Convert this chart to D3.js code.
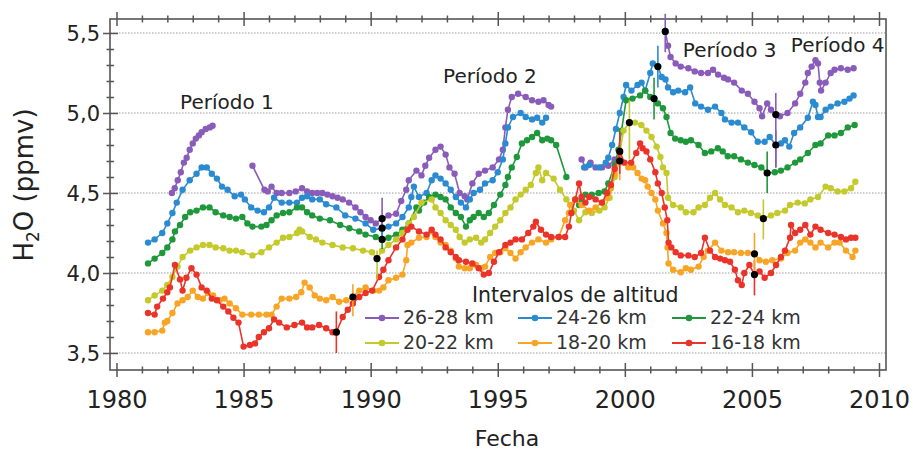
<!DOCTYPE html>
<html>
<head>
<meta charset="utf-8">
<script src="https://cdn.jsdelivr.net/npm/d3@7"></script>
<style>
  html, body { margin: 0; padding: 0; background: #fff; }
  svg { display: block; font-family: "DejaVu Sans", sans-serif; }
</style>
</head>
<body>
<svg id="chart" width="913" height="452"></svg>
<script>
// ---------------- DATA ----------------
const seriesNames = ["26-28 km", "24-26 km", "22-24 km", "20-22 km", "18-20 km", "16-18 km"];
const seriesColors = ["#8a5cba", "#2a8bd0", "#1f983c", "#c4c92c", "#f8a526", "#ea3329"];

const purple = [
  [1982.18,4.50],[1982.29,4.53],[1982.41,4.58],[1982.53,4.63],[1982.65,4.69],[1982.76,4.72],[1982.88,4.77],[1983.0,4.81],[1983.12,4.84],[1983.24,4.86],[1983.35,4.88],[1983.51,4.90],[1983.67,4.91],[1983.78,4.92],
  null,
  [1985.35,4.67],[1985.82,4.52],[1985.95,4.51],[1986.1,4.54],[1986.3,4.50],[1986.5,4.50],[1986.8,4.50],[1987.05,4.51],[1987.3,4.53],[1987.5,4.51],[1987.7,4.50],[1987.9,4.50],[1988.1,4.50],[1988.3,4.49],[1988.5,4.48],[1988.7,4.47],[1988.9,4.46],[1989.15,4.44],[1989.4,4.41],[1989.6,4.38],[1989.8,4.35],[1990.0,4.33],[1990.2,4.31],[1990.45,4.34],[1990.7,4.36],[1991.0,4.37],[1991.2,4.45],[1991.4,4.52],[1991.5,4.58],[1991.8,4.64],[1992.0,4.61],[1992.15,4.67],[1992.3,4.72],[1992.55,4.77],[1992.75,4.79],[1992.95,4.74],[1993.1,4.66],[1993.3,4.62],[1993.5,4.50],[1993.7,4.48],[1993.8,4.46],[1994.0,4.56],[1994.25,4.62],[1994.5,4.64],[1994.8,4.66],[1995.05,4.71],[1995.2,4.77],[1995.3,4.91],[1995.4,5.02],[1995.55,5.10],[1995.8,5.12],[1996.1,5.10],[1996.35,5.08],[1996.6,5.07],[1996.8,5.08],[1997.0,5.05],[1997.1,5.04],
  null,
  [1998.3,4.71],[1998.45,4.66],[1998.65,4.69],[1998.85,4.66],[1999.1,4.66],[1999.35,4.67],[1999.6,4.71],
  null,
  [2001.59,5.51],[2001.7,5.42],[2001.8,5.35],[2002.0,5.31],[2002.2,5.29],[2002.5,5.28],[2002.75,5.26],[2003.0,5.25],[2003.27,5.25],[2003.47,5.27],[2003.67,5.24],[2003.9,5.22],[2004.06,5.21],[2004.3,5.19],[2004.6,5.14],[2004.84,5.12],[2005.1,5.07],[2005.3,5.03],[2005.4,4.98],[2005.6,5.06],[2005.75,5.02],[2005.94,4.99],[2006.1,4.98],[2006.4,5.00],[2006.7,5.06],[2006.9,5.12],[2007.1,5.19],[2007.2,5.25],[2007.35,5.29],[2007.5,5.33],[2007.6,5.31],[2007.67,5.19],[2007.72,5.14],[2007.9,5.19],[2008.1,5.25],[2008.25,5.27],[2008.5,5.28],[2008.77,5.27],[2009.0,5.28]
];

const blue = [
  [1981.24,4.19],[1981.5,4.21],[1981.8,4.25],[1982.0,4.31],[1982.2,4.375],[1982.37,4.44],[1982.6,4.52],[1982.88,4.58],[1983.15,4.62],[1983.35,4.66],[1983.55,4.66],[1983.75,4.62],[1983.95,4.59],[1984.15,4.54],[1984.37,4.52],[1984.65,4.48],[1984.9,4.49],[1985.05,4.46],[1985.3,4.41],[1985.55,4.39],[1985.8,4.38],[1986.0,4.41],[1986.2,4.47],[1986.5,4.44],[1986.8,4.44],[1987.1,4.44],[1987.3,4.47],[1987.5,4.48],[1987.7,4.46],[1988.0,4.46],[1988.25,4.43],[1988.65,4.41],[1989.0,4.36],[1989.4,4.34],[1989.8,4.31],[1990.1,4.27],[1990.45,4.28],[1990.7,4.29],[1991.0,4.31],[1991.25,4.35],[1991.5,4.41],[1991.6,4.475],[1991.7,4.54],[1991.9,4.475],[1992.2,4.50],[1992.4,4.58],[1992.55,4.61],[1992.75,4.59],[1992.95,4.56],[1993.15,4.52],[1993.35,4.475],[1993.55,4.44],[1993.75,4.41],[1993.9,4.46],[1994.05,4.50],[1994.3,4.52],[1994.5,4.56],[1994.8,4.58],[1995.0,4.63],[1995.2,4.71],[1995.3,4.81],[1995.4,4.91],[1995.6,4.975],[1995.9,5.0],[1996.1,4.975],[1996.35,4.96],[1996.55,4.97],[1996.75,4.94],[1996.9,4.97],
  null,
  [1998.4,4.66],[1998.6,4.675],[1999.0,4.66],[1999.25,4.69],[1999.35,4.72],[1999.5,4.80],[1999.65,4.90],[1999.8,5.0],[1999.95,5.1],[2000.05,5.175],[2000.26,5.14],[2000.5,5.175],[2000.66,5.19],[2000.8,5.14],[2001.0,5.25],[2001.1,5.31],[2001.3,5.29],[2001.45,5.225],[2001.6,5.21],[2001.7,5.16],[2001.9,5.13],[2002.1,5.14],[2002.37,5.13],[2002.57,5.16],[2002.77,5.06],[2003.0,5.04],[2003.27,5.02],[2003.55,5.04],[2003.8,5.0],[2003.94,4.96],[2004.2,4.94],[2004.45,4.94],[2004.7,4.91],[2004.97,4.88],[2005.23,4.82],[2005.5,4.82],[2005.7,4.85],[2005.94,4.80],[2006.14,4.81],[2006.3,4.83],[2006.47,4.79],[2006.66,4.875],[2006.9,4.91],[2007.2,4.97],[2007.4,5.07],[2007.5,5.05],[2007.6,4.975],[2007.7,4.975],[2007.9,5.02],[2008.1,5.04],[2008.37,5.06],[2008.64,5.07],[2008.84,5.09],[2009.0,5.11]
];

const green = [
  [1981.24,4.06],[1981.5,4.09],[1981.8,4.125],[1982.0,4.16],[1982.2,4.21],[1982.3,4.26],[1982.5,4.30],[1982.7,4.35],[1982.9,4.38],[1983.15,4.39],[1983.4,4.41],[1983.66,4.41],[1983.9,4.38],[1984.2,4.36],[1984.45,4.35],[1984.7,4.34],[1984.95,4.35],[1985.15,4.31],[1985.35,4.29],[1985.7,4.29],[1985.9,4.30],[1986.1,4.33],[1986.3,4.36],[1986.55,4.375],[1986.8,4.38],[1987.1,4.41],[1987.3,4.41],[1987.5,4.38],[1987.7,4.36],[1988.0,4.34],[1988.4,4.33],[1988.8,4.30],[1989.16,4.28],[1989.55,4.26],[1989.8,4.24],[1990.2,4.225],[1990.45,4.21],[1990.7,4.22],[1991.0,4.24],[1991.25,4.27],[1991.5,4.31],[1991.8,4.41],[1991.9,4.39],[1992.1,4.44],[1992.3,4.475],[1992.55,4.49],[1992.75,4.475],[1992.95,4.46],[1993.15,4.41],[1993.35,4.375],[1993.55,4.35],[1993.75,4.29],[1993.9,4.33],[1994.05,4.35],[1994.25,4.375],[1994.45,4.35],[1994.65,4.375],[1994.85,4.425],[1995.1,4.49],[1995.3,4.55],[1995.4,4.60],[1995.55,4.66],[1995.75,4.725],[1995.95,4.81],[1996.15,4.83],[1996.35,4.85],[1996.55,4.875],[1996.75,4.83],[1996.95,4.84],[1997.1,4.83],[1997.3,4.80],[1997.7,4.60],
  null,
  [1998.2,4.425],[1998.3,4.46],[1998.45,4.49],[1998.7,4.49],[1998.97,4.50],[1999.2,4.51],[1999.35,4.56],[1999.6,4.675],[1999.75,4.77],[1999.87,4.89],[2000.05,5.08],[2000.3,5.09],[2000.6,5.11],[2000.8,5.14],[2001.0,5.10],[2001.15,5.09],[2001.3,5.06],[2001.5,5.03],[2001.64,4.975],[2001.8,4.875],[2001.98,4.84],[2002.2,4.83],[2002.4,4.82],[2002.6,4.83],[2002.9,4.80],[2003.15,4.75],[2003.4,4.76],[2003.66,4.78],[2003.85,4.76],[2004.05,4.73],[2004.3,4.73],[2004.57,4.71],[2004.84,4.69],[2005.1,4.675],[2005.37,4.66],[2005.6,4.625],[2005.9,4.63],[2006.14,4.64],[2006.4,4.66],[2006.7,4.69],[2006.9,4.71],[2007.2,4.75],[2007.5,4.80],[2007.7,4.81],[2008.0,4.86],[2008.25,4.86],[2008.5,4.875],[2008.77,4.91],[2009.04,4.925]
];

const yellow = [
  [1981.24,3.83],[1981.5,3.86],[1981.8,3.89],[1982.0,3.925],[1982.2,3.975],[1982.4,4.04],[1982.6,4.10],[1982.9,4.14],[1983.15,4.16],[1983.4,4.175],[1983.66,4.175],[1983.9,4.16],[1984.2,4.155],[1984.45,4.14],[1984.7,4.14],[1984.95,4.13],[1985.35,4.11],[1985.7,4.13],[1986.0,4.16],[1986.3,4.19],[1986.55,4.22],[1986.8,4.225],[1987.1,4.25],[1987.2,4.27],[1987.3,4.26],[1987.6,4.225],[1987.85,4.21],[1988.1,4.19],[1988.5,4.175],[1988.9,4.16],[1989.3,4.155],[1989.7,4.14],[1990.05,4.13],[1990.25,4.09],[1990.45,4.14],[1990.7,4.175],[1991.0,4.21],[1991.25,4.25],[1991.5,4.31],[1991.7,4.35],[1992.0,4.44],[1992.4,4.46],[1992.55,4.41],[1992.75,4.375],[1992.95,4.33],[1993.15,4.30],[1993.35,4.27],[1993.5,4.225],[1993.7,4.19],[1993.9,4.21],[1994.15,4.22],[1994.35,4.19],[1994.5,4.21],[1994.7,4.25],[1994.9,4.29],[1995.1,4.33],[1995.3,4.375],[1995.5,4.41],[1995.7,4.46],[1995.9,4.49],[1996.1,4.52],[1996.3,4.55],[1996.5,4.625],[1996.6,4.66],[1996.75,4.58],[1996.9,4.625],[1997.2,4.59],[1997.45,4.52],[1997.7,4.46],[1998.0,4.39],[1998.2,4.33],[1998.45,4.38],[1998.7,4.375],[1999.0,4.39],[1999.2,4.41],[1999.4,4.47],[1999.6,4.60],[1999.8,4.75],[1999.95,4.89],[2000.18,4.94],[2000.4,4.94],[2000.65,4.925],[2000.85,4.89],[2001.05,4.85],[2001.25,4.79],[2001.4,4.725],[2001.5,4.66],[2001.64,4.625],[2001.7,4.47],[2001.9,4.425],[2002.2,4.41],[2002.4,4.38],[2002.7,4.38],[2002.9,4.41],[2003.15,4.425],[2003.35,4.47],[2003.55,4.50],[2003.75,4.46],[2003.94,4.425],[2004.2,4.41],[2004.45,4.38],[2004.7,4.39],[2004.96,4.375],[2005.23,4.36],[2005.45,4.34],[2005.75,4.36],[2006.0,4.375],[2006.3,4.39],[2006.5,4.425],[2006.8,4.44],[2007.08,4.435],[2007.3,4.46],[2007.6,4.475],[2007.9,4.54],[2008.1,4.53],[2008.37,4.51],[2008.64,4.51],[2008.9,4.53],[2009.07,4.57]
];

const orange = [
  [1981.24,3.63],[1981.5,3.63],[1981.8,3.64],[1981.9,3.69],[1982.0,3.70],[1982.2,3.75],[1982.4,3.81],[1982.6,3.83],[1982.8,3.85],[1983.0,3.89],[1983.2,3.85],[1983.4,3.84],[1983.6,3.875],[1983.8,3.86],[1984.06,3.83],[1984.25,3.84],[1984.45,3.81],[1984.7,3.78],[1984.95,3.74],[1985.3,3.74],[1985.6,3.74],[1985.9,3.74],[1986.1,3.74],[1986.3,3.79],[1986.5,3.84],[1986.8,3.84],[1987.07,3.85],[1987.27,3.88],[1987.4,3.94],[1987.6,3.91],[1987.8,3.86],[1988.0,3.84],[1988.25,3.83],[1988.5,3.85],[1988.76,3.82],[1989.04,3.83],[1989.3,3.85],[1989.55,3.89],[1989.8,3.91],[1990.1,3.89],[1990.33,3.89],[1990.5,3.91],[1990.7,3.955],[1991.0,3.97],[1991.25,3.99],[1991.4,4.08],[1991.45,4.175],[1991.6,4.19],[1991.9,4.22],[1992.2,4.225],[1992.4,4.26],[1992.55,4.225],[1992.75,4.19],[1992.95,4.175],[1993.15,4.14],[1993.35,4.09],[1993.47,4.04],[1993.7,4.03],[1993.9,4.03],[1994.15,4.05],[1994.35,4.03],[1994.5,4.04],[1994.7,4.10],[1994.9,4.125],[1995.1,4.13],[1995.3,4.155],[1995.5,4.125],[1995.7,4.09],[1995.9,4.13],[1996.1,4.16],[1996.35,4.19],[1996.6,4.21],[1996.9,4.19],[1997.1,4.21],[1997.4,4.225],[1997.65,4.33],[1997.8,4.375],[1997.85,4.425],[1998.05,4.46],[1998.3,4.425],[1998.6,4.39],[1998.85,4.41],[1999.1,4.44],[1999.3,4.47],[1999.45,4.53],[1999.6,4.62],[1999.8,4.70],[1999.95,4.69],[2000.14,4.66],[2000.33,4.66],[2000.5,4.625],[2000.66,4.59],[2000.8,4.58],[2000.9,4.54],[2001.05,4.50],[2001.2,4.46],[2001.3,4.39],[2001.5,4.31],[2001.64,4.25],[2001.68,4.16],[2001.72,4.06],[2001.9,4.02],[2002.2,4.005],[2002.4,4.03],[2002.6,4.02],[2002.9,4.04],[2003.1,4.10],[2003.27,4.14],[2003.55,4.19],[2003.8,4.14],[2004.06,4.13],[2004.3,4.13],[2004.57,4.125],[2004.84,4.125],[2005.1,4.12],[2005.3,4.08],[2005.55,4.07],[2005.8,4.08],[2006.14,4.09],[2006.4,4.125],[2006.7,4.14],[2006.9,4.19],[2007.1,4.21],[2007.3,4.19],[2007.5,4.16],[2007.7,4.19],[2008.0,4.16],[2008.25,4.19],[2008.45,4.19],[2008.7,4.14],[2008.96,4.10],[2009.07,4.14]
];

const red = [
  [1981.24,3.75],[1981.5,3.74],[1981.6,3.79],[1981.83,3.84],[1982.0,3.88],[1982.1,3.91],[1982.3,4.05],[1982.5,3.96],[1982.6,3.89],[1982.75,3.97],[1982.95,4.03],[1983.15,3.99],[1983.35,3.91],[1983.55,3.89],[1983.75,3.84],[1983.95,3.83],[1984.2,3.79],[1984.4,3.76],[1984.6,3.72],[1984.8,3.69],[1985.0,3.54],[1985.25,3.55],[1985.45,3.56],[1985.6,3.60],[1985.8,3.63],[1986.0,3.655],[1986.2,3.71],[1986.4,3.69],[1986.7,3.66],[1987.0,3.675],[1987.3,3.69],[1987.5,3.66],[1987.7,3.66],[1987.97,3.675],[1988.25,3.655],[1988.5,3.63],[1988.65,3.63],[1988.9,3.725],[1989.1,3.77],[1989.3,3.81],[1989.55,3.85],[1989.8,3.875],[1990.06,3.89],[1990.33,3.975],[1990.5,4.02],[1990.7,4.08],[1991.0,4.16],[1991.25,4.21],[1991.45,4.27],[1991.6,4.29],[1991.9,4.26],[1992.2,4.24],[1992.4,4.27],[1992.55,4.24],[1992.75,4.21],[1992.95,4.16],[1993.15,4.13],[1993.35,4.10],[1993.47,4.08],[1993.75,4.07],[1994.0,4.06],[1994.25,4.03],[1994.45,3.99],[1994.65,4.00],[1994.85,4.07],[1995.05,4.13],[1995.3,4.175],[1995.5,4.19],[1995.7,4.21],[1995.95,4.21],[1996.2,4.25],[1996.4,4.29],[1996.5,4.32],[1996.7,4.27],[1996.9,4.24],[1997.1,4.225],[1997.4,4.225],[1997.65,4.225],[1997.8,4.29],[1997.9,4.375],[1998.05,4.46],[1998.2,4.56],[1998.3,4.475],[1998.45,4.44],[1998.6,4.475],[1998.85,4.46],[1999.1,4.44],[1999.3,4.50],[1999.45,4.55],[1999.6,4.65],[1999.8,4.76],[1999.98,4.69],[2000.25,4.69],[2000.45,4.75],[2000.6,4.81],[2000.7,4.78],[2000.85,4.76],[2001.0,4.71],[2001.2,4.63],[2001.3,4.56],[2001.45,4.50],[2001.57,4.41],[2001.67,4.33],[2001.72,4.19],[2001.83,4.16],[2002.0,4.13],[2002.2,4.11],[2002.5,4.11],[2002.75,4.10],[2003.0,4.125],[2003.15,4.22],[2003.35,4.14],[2003.55,4.10],[2003.75,4.09],[2003.94,4.08],[2004.14,4.07],[2004.33,4.02],[2004.45,3.955],[2004.6,3.925],[2004.7,4.00],[2004.9,4.05],[2005.1,3.99],[2005.3,4.01],[2005.5,3.97],[2005.75,4.00],[2005.95,4.05],[2006.14,4.10],[2006.3,4.14],[2006.5,4.22],[2006.54,4.30],[2006.7,4.25],[2006.9,4.27],[2007.1,4.30],[2007.3,4.24],[2007.5,4.29],[2007.7,4.27],[2008.0,4.25],[2008.25,4.24],[2008.5,4.225],[2008.7,4.21],[2008.9,4.22],[2009.07,4.22]
];

// change points: [series index, year, value, low, high]
const changePoints = [
  [5,1988.65,3.63,3.50,3.76],
  [4,1989.3,3.85,3.73,3.93],
  [3,1990.25,4.09,3.96,4.14],
  [2,1990.45,4.21,4.15,4.28],
  [1,1990.45,4.28,4.20,4.35],
  [0,1990.45,4.34,4.27,4.47],
  [4,1999.8,4.70,4.58,4.80],
  [5,1999.8,4.76,4.62,4.88],
  [3,2000.18,4.94,4.71,5.08],
  [2,2001.15,5.09,4.96,5.22],
  [1,2001.3,5.29,5.16,5.42],
  [0,2001.59,5.51,5.38,5.62],
  [5,2005.1,3.99,3.86,4.08],
  [4,2005.1,4.12,4.00,4.25],
  [3,2005.45,4.34,4.21,4.46],
  [2,2005.6,4.625,4.50,4.76],
  [1,2005.94,4.80,4.66,4.89],
  [0,2005.94,4.99,4.66,5.125]
];

const yMajorTicks = [3.5, 4.0, 4.5, 5.0, 5.5];
const periodLabels = ["Período 1", "Período 2", "Período 3", "Período 4"];
const periodAnchors = [[1982.5, 5.025], [1992.85, 5.19], [2002.28, 5.35], [2006.53, 5.38]];
const legendTitle = "Intervalos de altitud";
const xTitle = "Fecha";

// ---------------- LAYOUT ----------------
const svg = d3.select("#chart");
const L = 110, R = 886, T = 19, B = 370;
const x = d3.scaleLinear().domain([1980, 2010]).range([116.5, 879]);
const y = d3.scaleLinear().domain([3.5, 5.5]).range([353, 33]);
const ink = "#222";
const frame = "#555";

// gridlines
svg.append("g").selectAll("line").data(yMajorTicks).join("line")
  .attr("x1", L).attr("x2", R)
  .attr("y1", d => y(d)).attr("y2", d => y(d))
  .attr("stroke", "#9a9a9a").attr("stroke-width", 1)
  .attr("stroke-dasharray", "1.5,1.5");

// frame
svg.append("rect").attr("x", L).attr("y", T).attr("width", R - L).attr("height", B - T)
  .attr("fill", "none").attr("stroke", frame).attr("stroke-width", 1.6);

const yearTicks = d3.range(1980, 2011);
const isMajorYear = d => d % 5 === 0;

// bottom axis
const gxb = svg.append("g").attr("transform", `translate(0,${B})`)
  .call(d3.axisBottom(x).tickValues(yearTicks).tickFormat(d => isMajorYear(d) ? d : "").tickSizeOuter(0));
gxb.select(".domain").remove();
gxb.selectAll(".tick line").attr("y1", d => isMajorYear(d) ? -7 : -3.5).attr("y2", d => isMajorYear(d) ? 7 : 3.5)
  .attr("stroke", frame).attr("stroke-width", 1.5);
gxb.selectAll(".tick text").attr("y", 38).attr("dy", null)
  .attr("font-size", 24).attr("font-family", "DejaVu Sans").attr("fill", ink);

// top axis
const gxt = svg.append("g").attr("transform", `translate(0,${T})`)
  .call(d3.axisTop(x).tickValues(yearTicks).tickFormat("").tickSizeOuter(0));
gxt.select(".domain").remove();
gxt.selectAll(".tick line").attr("y1", d => isMajorYear(d) ? -7 : -3.5).attr("y2", d => isMajorYear(d) ? 7 : 3.5)
  .attr("stroke", frame).attr("stroke-width", 1.5);

// left axis
const yTicks = d3.range(35, 56).map(v => v / 10);
const isMajorY = d => Math.round(d * 10) % 5 === 0;
const gy = svg.append("g").attr("transform", `translate(${L},0)`)
  .call(d3.axisLeft(y).tickValues(yTicks).tickFormat(d => isMajorY(d) ? d.toFixed(1).replace(".", ",") : "").tickSizeOuter(0));
gy.select(".domain").remove();
gy.selectAll(".tick line").attr("x1", d => isMajorY(d) ? -7 : -3.5).attr("x2", d => isMajorY(d) ? 8 : 4)
  .attr("stroke", frame).attr("stroke-width", 1.5);
gy.selectAll(".tick text").attr("x", -10).attr("dy", "0.36em")
  .attr("font-size", 21).attr("font-family", "DejaVu Sans").attr("fill", ink);

// axis titles
svg.append("text").attr("x", 507).attr("y", 446).attr("text-anchor", "middle")
  .attr("font-size", 22).attr("fill", ink).text(xTitle);
const yt = svg.append("text").attr("transform", "translate(33,185) rotate(-90)")
  .attr("text-anchor", "middle").attr("font-size", 26).attr("fill", ink);
yt.append("tspan").text("H");
yt.append("tspan").attr("font-size", 17).attr("dy", 6).text("2");
yt.append("tspan").attr("dy", -6).text("O (ppmv)");

// series
const allSeries = [purple, blue, green, yellow, orange, red];
const line = d3.line().defined(d => d !== null).x(d => x(d[0])).y(d => y(d[1]));
const drawOrder = [0, 1, 2, 3, 4, 5];
drawOrder.forEach(i => {
  const g = svg.append("g");
  g.append("path").datum(allSeries[i]).attr("d", line)
    .attr("fill", "none").attr("stroke", seriesColors[i]).attr("stroke-width", 1.6);
  g.selectAll("circle").data(allSeries[i].filter(d => d !== null)).join("circle")
    .attr("cx", d => x(d[0])).attr("cy", d => y(d[1])).attr("r", 3.2)
    .attr("fill", seriesColors[i]);
});

// error bars and change points
svg.append("g").selectAll("line").data(changePoints).join("line")
  .attr("x1", d => x(d[1])).attr("x2", d => x(d[1]))
  .attr("y1", d => y(d[3])).attr("y2", d => y(d[4]))
  .attr("stroke", d => seriesColors[d[0]]).attr("stroke-width", 1.6);
svg.append("g").selectAll("circle").data(changePoints).join("circle")
  .attr("cx", d => x(d[1])).attr("cy", d => y(d[2])).attr("r", 3.6).attr("fill", "#000");

// period labels
svg.append("g").selectAll("text").data(periodLabels).join("text")
  .attr("x", (d, i) => x(periodAnchors[i][0])).attr("y", (d, i) => y(periodAnchors[i][1]))
  .attr("font-size", 20).attr("fill", ink).text(d => d);

// legend
const lg = svg.append("g");
lg.append("text").attr("x", 472).attr("y", 302).attr("font-size", 20.5).attr("fill", ink).text(legendTitle);
const colX = [365, 518, 672];
const rowY = [318, 343];
seriesNames.forEach((name, i) => {
  const cx = colX[i % 3], cy = rowY[Math.floor(i / 3)];
  lg.append("line").attr("x1", cx).attr("x2", cx + 34).attr("y1", cy).attr("y2", cy)
    .attr("stroke", seriesColors[i]).attr("stroke-width", 2);
  lg.append("circle").attr("cx", cx + 17).attr("cy", cy).attr("r", 3.3).attr("fill", seriesColors[i]);
  lg.append("text").attr("x", cx + 38).attr("y", cy + 6).attr("font-size", 19).attr("fill", "#333").text(name);
});
</script>
</body>
</html>
